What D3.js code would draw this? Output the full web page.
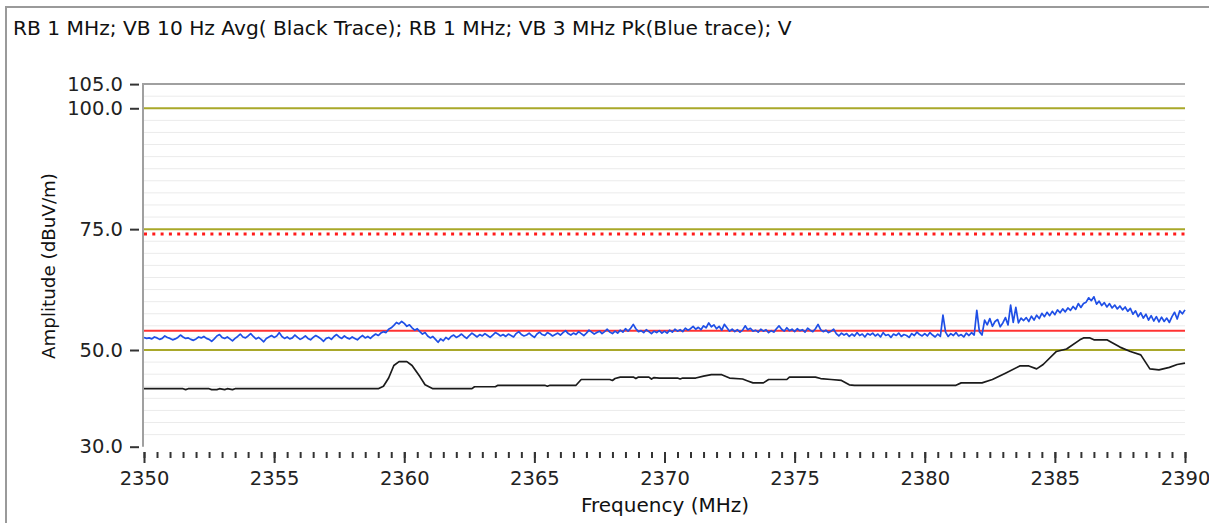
<!DOCTYPE html>
<html>
<head>
<meta charset="utf-8">
<script src="https://cdn.jsdelivr.net/npm/d3@7"></script>
<style>
  html, body { margin: 0; padding: 0; background: #fff; }
  svg { display: block; font-family: "DejaVu Sans", Verdana, sans-serif; }
</style>
</head>
<body>
<svg id="chart" width="1209" height="523"></svg>
<script>
// ---- chart data -------------------------------------------------------
const titleText = "RB 1 MHz; VB 10 Hz Avg( Black Trace); RB 1 MHz; VB 3 MHz Pk(Blue trace); V";
const xLabel = "Frequency (MHz)";
const yLabel = "Amplitude (dBuV/m)";

const xTicks = [2350, 2355, 2360, 2365, 2370, 2375, 2380, 2385, 2390];
const yTicks = [30, 50, 75, 100, 105];
const olivLevels = [50, 75, 100];       // highlighted grid levels
const avgLimit = 54;                     // solid red limit
const pkLimit = 74;                      // dotted red limit

// Peak detector sweep (blue), one reading per 0.1 MHz from 2350.0 to 2390.0
const blueStartMHz = 2350;
const blueStepMHz = 0.1;
const blueValues = [
  52.6, 52.4, 52.5, 52.3, 52.7, 52.5, 52.2, 52.4, 52.9, 52.6, 52.4, 52.1, 52.3, 52.6, 53.1, 52.7, 52.4, 52.5, 52.2, 52.0,
  52.3, 52.7, 52.5, 52.8, 52.4, 52.2, 51.8, 52.3, 52.9, 53.2, 52.6, 52.4, 52.7, 52.3, 51.9, 52.4, 52.8, 53.3, 52.7, 52.5,
  52.9, 53.4, 52.8, 52.3, 52.6, 52.2, 51.7, 52.4, 52.7, 53.0, 52.6, 52.9, 53.6, 52.8, 52.4, 52.7, 52.3, 52.5, 53.1, 52.6,
  52.2, 52.5, 52.9, 52.4, 52.1, 52.6, 53.0, 52.7, 52.3, 51.8, 52.4, 52.6, 52.2, 52.8, 53.2, 52.7, 52.4, 52.9, 52.5, 52.3,
  52.7, 52.4, 52.1, 52.6, 53.0, 52.5, 52.8, 52.4, 52.9, 53.3, 53.0, 53.5, 53.8, 53.6, 54.3, 54.6, 55.1, 55.7, 55.4, 55.9,
  55.5, 54.9, 55.2, 54.6, 54.1, 54.4, 53.8, 53.3, 53.6, 52.9, 52.5, 52.8, 52.2, 51.6, 52.3, 51.9, 52.6, 52.2, 52.8, 53.1,
  52.6, 52.9, 53.3, 52.8, 52.4, 53.0, 53.5, 53.1, 52.7, 53.2, 52.9, 53.4, 53.0, 52.6, 53.1, 53.6, 53.3, 52.9, 53.2, 52.8,
  53.3, 53.0, 52.7, 53.4, 53.8, 53.2, 52.9, 53.1, 53.5, 53.0, 52.6, 53.3, 53.7, 53.2, 53.0, 53.6, 53.3, 52.9, 53.2, 53.5,
  53.1, 53.6, 54.0, 53.4, 53.1, 53.5, 53.2, 53.8, 53.4, 53.0, 53.5, 54.1, 53.7, 53.3, 53.6, 53.9, 53.4, 53.8, 54.3, 53.7,
  53.4, 53.9, 53.5, 54.1, 53.7, 54.4, 53.9, 54.5, 55.3, 54.4, 53.8, 54.0, 53.6, 54.2, 53.8, 53.4, 53.9, 53.6, 54.0, 53.5,
  53.9, 53.5, 54.1, 53.7, 54.3, 53.9, 54.2, 53.8, 54.5, 54.1, 54.4, 54.9, 54.3, 54.7, 54.2, 55.0, 54.6, 55.6, 54.8, 55.2,
  54.4, 54.9, 54.1, 55.3, 54.6, 53.9, 54.3, 53.8, 54.2, 53.7, 54.1, 55.0, 54.2, 54.5, 53.9, 54.1, 53.7, 54.3, 53.9, 54.2,
  53.6, 54.0, 53.7, 54.4, 55.0, 54.3, 53.9, 54.6, 54.0, 54.3, 53.8, 54.4, 54.0, 54.2, 53.7, 54.5, 54.1, 53.8, 54.4, 55.3,
  54.2, 53.8, 54.1, 53.6, 53.9, 54.3, 53.4, 52.9, 53.5, 53.1, 53.4, 52.8, 53.3, 52.9, 53.6, 53.0, 53.3, 52.7, 53.4, 53.1,
  53.5, 52.9, 53.3, 52.7, 53.6, 53.0, 53.2, 52.6, 53.3, 53.0, 53.5, 52.8, 53.2, 53.0, 52.6, 53.4, 53.0, 53.7, 53.2, 52.9,
  53.4, 52.9, 53.6, 53.1, 52.7, 53.3, 52.8, 57.2, 53.7, 52.8, 53.4, 53.0, 53.6, 52.9, 53.2, 52.7, 53.5, 53.0, 53.6, 53.1,
  58.2, 53.8, 53.1, 56.2, 55.2, 56.5, 54.9, 55.9, 56.3, 54.8, 55.6, 56.7, 55.2, 59.3, 55.7, 58.8, 55.6, 56.6, 56.1, 56.7,
  55.9, 57.0, 56.2, 57.2, 56.5, 57.6, 56.9, 57.8, 57.1, 58.0, 57.3, 58.3, 57.7, 58.5, 57.9, 58.7, 58.2, 59.0, 58.4, 59.6,
  58.8, 59.6, 59.9, 60.8, 60.2, 61.0, 59.5, 60.1, 59.2, 59.8, 58.9, 59.6, 58.7, 59.3, 58.5, 59.1, 58.3, 58.9, 58.0, 58.6,
  57.4, 58.1, 56.9, 57.7, 56.6, 57.4, 56.2, 57.1, 56.0, 56.9, 55.8, 56.8, 55.9, 56.6, 55.7, 56.9, 57.8, 56.4, 58.1, 57.5,
  58.3
];

// Average detector sweep (black), breakpoints of the smooth trace
const blackFreq = [
  2350, 2351.5, 2351.6, 2351.7, 2352.5, 2352.6, 2352.8, 2352.9, 2353.1, 2353.2, 2353.4, 2353.5,
  2359.0, 2359.2, 2359.4, 2359.6, 2359.8, 2360.1, 2360.3, 2360.6, 2360.8, 2361.1,
  2362.6, 2362.7, 2363.5, 2363.6, 2365.4, 2365.5, 2365.6, 2366.6, 2366.8,
  2367.9, 2368.0, 2368.1, 2368.3, 2368.8, 2368.9, 2369.0, 2369.4, 2369.5, 2369.6, 2369.8,
  2370.5, 2370.6, 2370.7, 2371.2, 2371.5, 2371.8, 2372.2, 2372.5, 2373.0, 2373.2, 2373.4, 2373.8,
  2374.0, 2374.7, 2374.8, 2375.8, 2376.0, 2376.4, 2376.8, 2377.1, 2377.3,
  2381.2, 2381.4, 2382.2, 2382.6, 2383.1, 2383.65, 2384.0, 2384.3, 2384.55,
  2385.06, 2385.45, 2385.96, 2386.1, 2386.35, 2386.5, 2387.0, 2387.1, 2387.5, 2387.9,
  2388.3, 2388.65, 2389.0, 2389.4, 2389.7, 2390.0
];
const blackValues = [
  42.0, 42.0, 41.8, 42.0, 42.0, 41.8, 41.8, 42.0, 41.8, 42.0, 41.8, 42.0,
  42.0, 42.5, 44.2, 46.8, 47.6, 47.6, 46.8, 44.5, 42.8, 42.0,
  42.0, 42.4, 42.4, 42.7, 42.7, 42.5, 42.7, 42.7, 43.9,
  43.9, 43.7, 44.1, 44.4, 44.4, 44.1, 44.4, 44.4, 44.0, 44.3, 44.2,
  44.2, 44.0, 44.2, 44.2, 44.6, 44.9, 44.9, 44.2, 44.0, 43.6, 43.2, 43.2,
  43.9, 43.9, 44.4, 44.4, 44.1, 43.9, 43.7, 42.8, 42.7,
  42.7, 43.2, 43.2, 43.9, 45.2, 46.7, 46.7, 46.1, 47.0,
  49.7, 50.2, 52.1, 52.5, 52.5, 52.1, 52.1, 51.8, 50.6, 49.7,
  49.0, 46.1, 45.9, 46.4, 47.0, 47.3
];

// ---- layout ------------------------------------------------------------
const svg = d3.select("#chart");
const plot = { left: 144, right: 1185, top: 84.1, bottom: 446.7 };

const x = d3.scaleLinear().domain([2350, 2390]).range([plot.left, plot.right]);
const y = d3.scaleLinear().domain([30, 105]).range([plot.bottom, plot.top]);

// outer panel frame
svg.append("path")
  .attr("d", "M6,523 L6,7 L1209,7")
  .attr("fill", "none")
  .attr("stroke", "#9a9a9a")
  .attr("stroke-width", 2);

// title
svg.append("text")
  .attr("x", 13).attr("y", 35)
  .attr("font-size", 20.2)
  .attr("fill", "#111")
  .text(titleText);

// light grid every 2.5 dB
const minorLevels = d3.range(32.5, 105, 2.5).filter(v => !olivLevels.includes(v));
svg.append("g").selectAll("line")
  .data(minorLevels)
  .join("line")
  .attr("x1", plot.left).attr("x2", plot.right)
  .attr("y1", d => y(d)).attr("y2", d => y(d))
  .attr("stroke", "#ebebeb").attr("stroke-width", 1);

// highlighted grid levels
svg.append("g").selectAll("line")
  .data(olivLevels)
  .join("line")
  .attr("x1", plot.left).attr("x2", plot.right)
  .attr("y1", d => y(d)).attr("y2", d => y(d))
  .attr("stroke", "#a9a82a").attr("stroke-width", 2);

// plot frame: top and left edges
svg.append("path")
  .attr("d", `M${plot.right},${y(105)} L143,${y(105)} L143,${y(30)}`)
  .attr("fill", "none")
  .attr("stroke", "#a0a0a0")
  .attr("stroke-width", 2);

// limit lines
svg.append("line")
  .attr("x1", plot.left).attr("x2", plot.right)
  .attr("y1", y(pkLimit)).attr("y2", y(pkLimit))
  .attr("stroke", "#ff1a1a").attr("stroke-width", 3)
  .attr("stroke-dasharray", "3,5.3");

svg.append("line")
  .attr("x1", plot.left).attr("x2", plot.right)
  .attr("y1", y(avgLimit)).attr("y2", y(avgLimit))
  .attr("stroke", "#ff3333").attr("stroke-width", 2);

// traces
const blueData = blueValues.map((v, i) => [blueStartMHz + i * blueStepMHz, v]);
const blackData = blackFreq.map((f, i) => [f, blackValues[i]]);
const line = d3.line().x(d => x(d[0])).y(d => y(d[1]));

svg.append("path")
  .datum(blueData)
  .attr("d", line)
  .attr("fill", "none")
  .attr("stroke", "#1f4fe6")
  .attr("stroke-width", 1.7)
  .attr("stroke-linejoin", "round");

svg.append("path")
  .datum(blackData)
  .attr("d", line)
  .attr("fill", "none")
  .attr("stroke", "#1b1b1b")
  .attr("stroke-width", 1.7)
  .attr("stroke-linejoin", "round");

// y axis
const yAxis = svg.append("g")
  .attr("transform", "translate(139,0)")
  .call(d3.axisLeft(y).tickValues(yTicks).tickFormat(d3.format(".1f")).tickSize(9).tickPadding(7));
yAxis.select(".domain").remove();
yAxis.selectAll(".tick line").attr("stroke", "#333").attr("stroke-width", 2);
yAxis.selectAll(".tick text")
  .attr("font-family", "DejaVu Sans, sans-serif")
  .attr("font-size", 19.5).attr("fill", "#222");

// x axis: minor ticks every 0.5 MHz, labelled majors every 5 MHz
const xMinor = svg.append("g")
  .attr("transform", "translate(0,452)")
  .call(d3.axisBottom(x).tickValues(d3.range(2350, 2390.01, 0.5)).tickSize(6).tickFormat(""));
xMinor.select(".domain").remove();
xMinor.selectAll(".tick line").attr("stroke", "#333").attr("stroke-width", 2);

const xAxis = svg.append("g")
  .attr("transform", "translate(0,452)")
  .call(d3.axisBottom(x).tickValues(xTicks).tickFormat(d3.format("d")).tickSize(11).tickPadding(8));
xAxis.select(".domain").remove();
xAxis.selectAll(".tick line").attr("stroke", "#333").attr("stroke-width", 2);
xAxis.selectAll(".tick text")
  .attr("font-family", "DejaVu Sans, sans-serif")
  .attr("font-size", 19.5).attr("fill", "#222");

// axis titles
svg.append("text")
  .attr("x", 665).attr("y", 512)
  .attr("text-anchor", "middle")
  .attr("font-size", 20)
  .attr("fill", "#111")
  .text(xLabel);

svg.append("text")
  .attr("transform", "translate(55,266) rotate(-90)")
  .attr("text-anchor", "middle")
  .attr("font-size", 18.3)
  .attr("fill", "#111")
  .text(yLabel);
</script>
</body>
</html>
